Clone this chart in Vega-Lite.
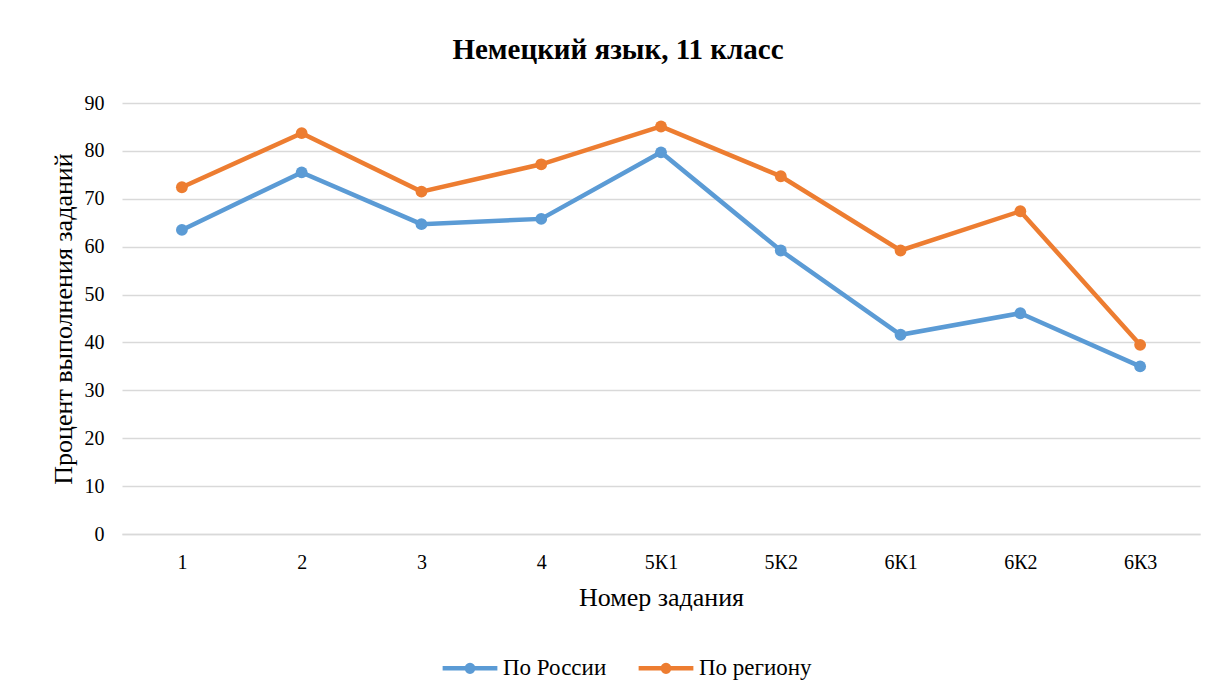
{
  "$schema": "https://vega.github.io/schema/vega-lite/v6.json",
  "autosize": {"type": "none"},
  "width": 1078,
  "height": 431,
  "padding": {"left": 122, "top": 103, "right": 18, "bottom": 162},
  "background": "white",
  "title": {
    "text": "Немецкий  язык, 11 класс",
    "font": "Liberation Serif",
    "fontSize": 29,
    "fontWeight": "bold",
    "color": "#000000",
    "anchor": "middle",
    "dx": -43,
    "offset": 28
  },
  "data": {
    "values": [
      {"task": "1", "series": "По России", "value": 63.5},
      {"task": "2", "series": "По России", "value": 75.5},
      {"task": "3", "series": "По России", "value": 64.7},
      {"task": "4", "series": "По России", "value": 65.8},
      {"task": "5К1", "series": "По России", "value": 79.7},
      {"task": "5К2", "series": "По России", "value": 59.2},
      {"task": "6К1", "series": "По России", "value": 41.6},
      {"task": "6К2", "series": "По России", "value": 46.1},
      {"task": "6К3", "series": "По России", "value": 35.0},
      {"task": "1", "series": "По региону", "value": 72.4},
      {"task": "2", "series": "По региону", "value": 83.7},
      {"task": "3", "series": "По региону", "value": 71.5},
      {"task": "4", "series": "По региону", "value": 77.2},
      {"task": "5К1", "series": "По региону", "value": 85.1},
      {"task": "5К2", "series": "По региону", "value": 74.7},
      {"task": "6К1", "series": "По региону", "value": 59.2},
      {"task": "6К2", "series": "По региону", "value": 67.4},
      {"task": "6К3", "series": "По региону", "value": 39.5}
    ]
  },
  "mark": {
    "type": "line",
    "strokeWidth": 4.5,
    "point": {"filled": true, "size": 140, "opacity": 1}
  },
  "encoding": {
    "x": {
      "field": "task",
      "type": "ordinal",
      "sort": null,
      "scale": {"type": "point", "padding": 0.5},
      "axis": {
        "title": "Номер задания",
        "labelAngle": 0,
        "ticks": false,
        "domain": true,
        "domainColor": "#d9d9d9",
        "domainWidth": 1.5,
        "labelPadding": 18,
        "titlePadding": 12,
        "grid": false
      }
    },
    "y": {
      "field": "value",
      "type": "quantitative",
      "scale": {"domain": [0, 90], "nice": false},
      "axis": {
        "title": "Процент выполнения заданий",
        "values": [0, 10, 20, 30, 40, 50, 60, 70, 80, 90],
        "ticks": false,
        "domain": false,
        "labelPadding": 18,
        "titlePadding": 8,
        "grid": true,
        "gridColor": "#d9d9d9",
        "gridWidth": 1.5
      }
    },
    "color": {
      "field": "series",
      "type": "nominal",
      "scale": {"domain": ["По России", "По региону"], "range": ["#5B9BD5", "#ED7D31"]},
      "legend": {
        "title": null,
        "orient": "none",
        "legendX": 318,
        "legendY": 535,
        "direction": "horizontal",
        "symbolType": "M-1,0 L1,0 M0.12,0 A0.12,0.12 0 1,1 -0.12,0 A0.12,0.12 0 1,1 0.12,0 M0.05,0 A0.05,0.05 0 1,1 -0.05,0 A0.05,0.05 0 1,1 0.05,0",
        "symbolSize": 3000,
        "symbolStrokeWidth": 4.5,
        "labelFont": "Liberation Serif",
        "labelFontSize": 23,
        "labelColor": "#000000",
        "columnPadding": 22,
        "labelOffset": 3
      }
    }
  },
  "config": {
    "view": {"stroke": null},
    "axis": {
      "labelFont": "Liberation Serif",
      "labelFontSize": 20,
      "labelColor": "#000000",
      "titleFont": "Liberation Serif",
      "titleFontSize": 26,
      "titleFontWeight": "normal",
      "titleColor": "#000000"
    }
  }
}
